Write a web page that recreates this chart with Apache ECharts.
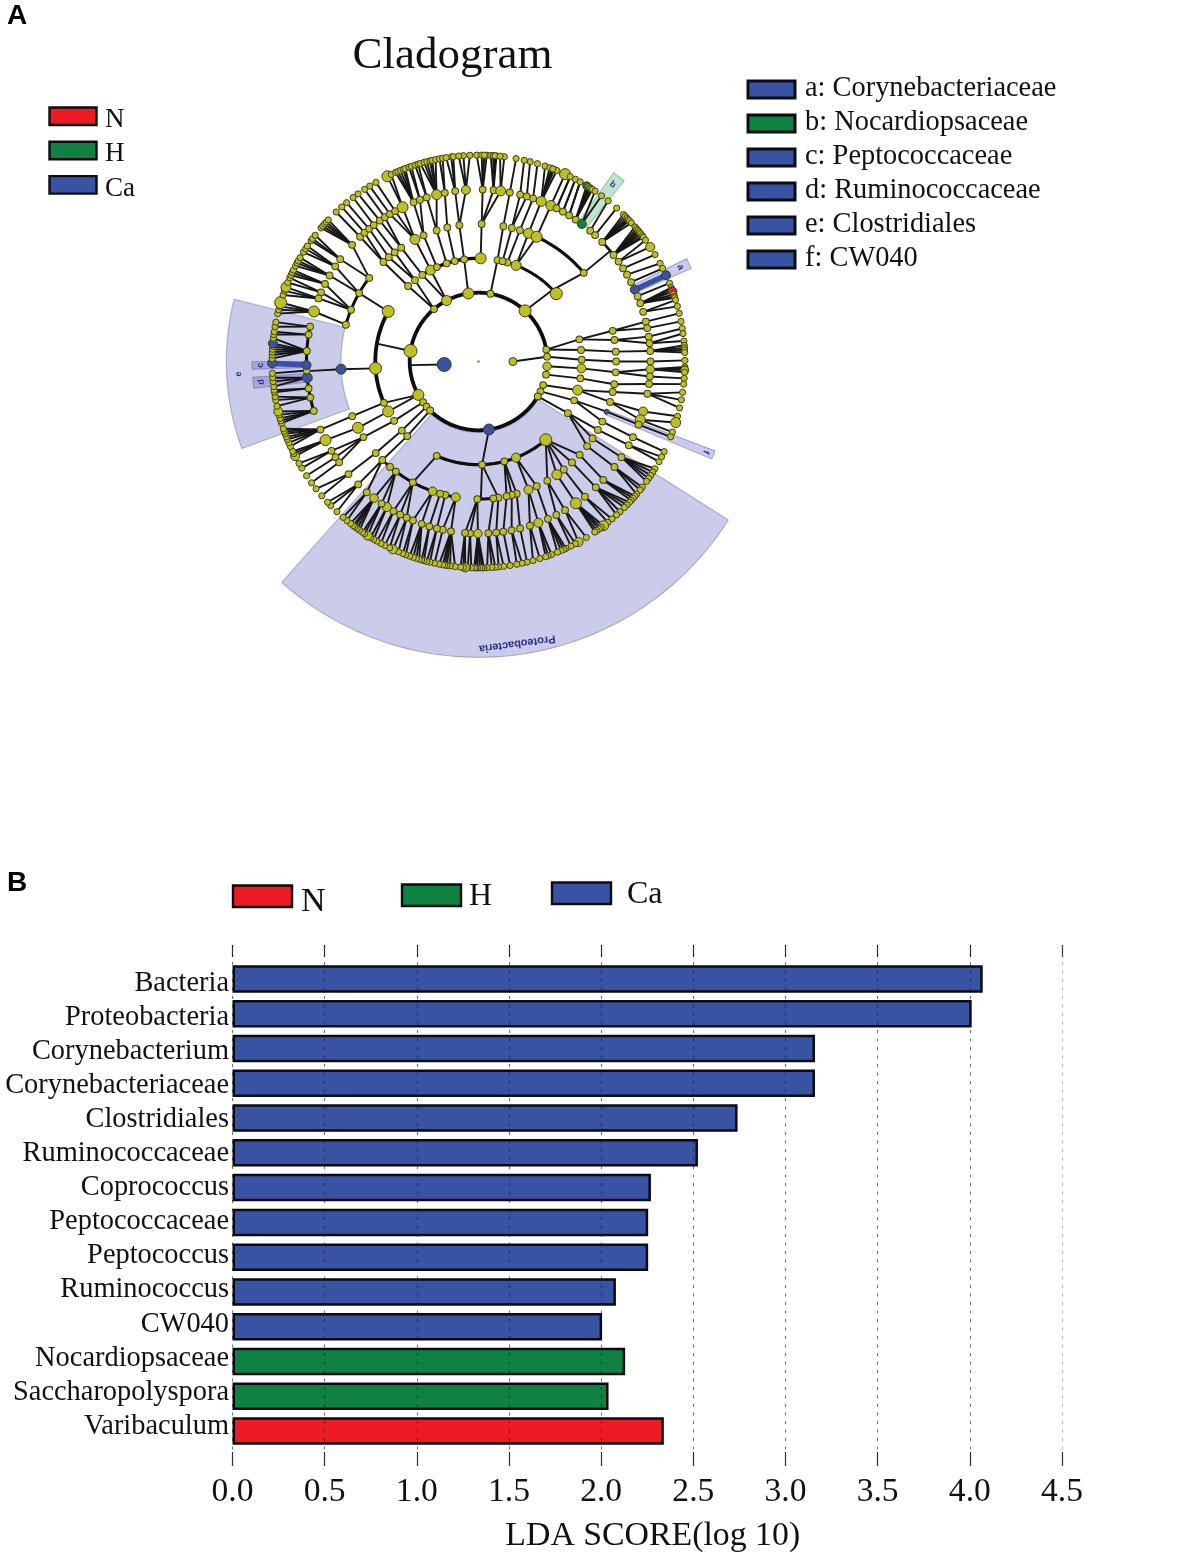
<!DOCTYPE html>
<html><head><meta charset="utf-8"><style>html,body{margin:0;padding:0;background:#fff}#c{width:1186px;height:1556px}</style>
<script src="https://cdn.jsdelivr.net/npm/echarts@6/dist/echarts.min.js"></script></head><body><div id="c"></div>
<script>
// ---------- bar chart data ----------
const barCategories=['Bacteria','Proteobacteria','Corynebacterium','Corynebacteriaceae','Clostridiales','Ruminococcaceae','Coprococcus','Peptococcaceae','Peptococcus','Ruminococcus','CW040','Nocardiopsaceae','Saccharopolyspora','Varibaculum'];
const barValues=[4.07,4.01,3.16,3.16,2.74,2.525,2.27,2.255,2.255,2.08,2.005,2.13,2.04,2.34];
const barGroups=['Ca','Ca','Ca','Ca','Ca','Ca','Ca','Ca','Ca','Ca','Ca','H','H','N'];
const groupNames=['N','H','Ca'];
const cladeLegend=['a: Corynebacteriaceae','b: Nocardiopsaceae','c: Peptococcaceae','d: Ruminococcaceae','e: Clostridiales','f: CW040'];
const cladeLegendGroups=['Ca','H','Ca','Ca','Ca','Ca'];
// ---------- cladogram data: angles in degrees clockwise from north, levels are rings ----------
// [parent angle on ring n-1, [child angles on ring n]]
const links3=[[319.7,[317,322]],[332.4,[327,332.4]],[351.5,[352]],[10,[10.6]],[80,[77.6,83.6]],[86,[89]],[94,[93.8]],[101,[99.4]],[110,[106.1]],[115.7,[112.1]],[120.5,[120]],[171.3,[178]],[241,[246.4,241]],[233.7,[234.9]],[229,[228]],[224.6,[223.7]]];
const links4=[[317,[316.3]],[322,[319.3,322.5]],[327,[325.8]],[332.4,[332.5]],[336.2,[336.5]],[342,[342.3]],[346.7,[346.9]],[352,[352]],[1.2,[1.3]],[21.4,[21.3,25]],[16.3,[17.5]],[13.5,[14]],[10.6,[10.4]],[77.6,[77.1,81]],[83.6,[85.9]],[89,[90]],[93.8,[94.5]],[99.4,[99.5]],[106.1,[102.8,107.1]],[112.1,[111.4,115.9]],[120,[119.8,124,127.9]],[139.3,[132.7,137.2,141.7,145.3,150]],[158.7,[155,158.7]],[165.5,[163.9,166,168.2]],[178,[171.7]],[203.9,[208.5]],[299,[299.8]],[266.2,[266.8]],[246.4,[246.6]],[241,[241.2]],[234.9,[236.7]],[228,[228.3]],[223.7,[224.3]]];
const links5=[[316.3,[316.5,318.5]],[319.3,[320.5]],[322.5,[322.5]],[325.8,[325,327]],[332.5,[329,331,333.8]],[336.5,[337.8,340.1]],[342.3,[342.5,345.9]],[346.9,[348.7]],[352,[352.2,355.8]],[1.3,[1.4,5,7.4]],[10.4,[10.5]],[14,[14,16.3]],[17.5,[18.5]],[21.3,[21.4]],[25,[24.9]],[77.1,[76.6,78.8]],[81,[81.7,83.9]],[85.9,[86.5]],[90,[90]],[94.5,[92.6,95]],[99.5,[97.5]],[102.8,[100.8]],[107.1,[106.9,109.8]],[111.4,[111.5]],[115.9,[116.1]],[119.8,[119.1]],[124,[123.8]],[127.9,[127.8]],[132.7,[133.5]],[137.2,[137]],[141.7,[141.8]],[145.3,[145.5]],[150,[153.1,149.8]],[155,[156.2]],[158.7,[162.6,159.6]],[163.9,[166]],[166,[168.9]],[168.2,[171.7]],[171.7,[174.1]],[173.8,[176.7]],[180.5,[180.2,182.8,184.5]],[189.5,[189.2,192]],[194,[194]],[196.2,[196.6]],[199.5,[199.3,202.4]],[208.5,[204.7,207.1,209.6]],[216.9,[212.2,214.3,217.4]],[224.3,[224.4,220.5]],[228.3,[229.1]],[236.7,[238.7,236.2,234.1]],[241.2,[242.8]],[246.6,[246.7]],[307.4,[306.5,312.7]],[299.8,[303.6,300]],[292.1,[296.8,293.7,291.5]],[285.5,[286.9]]];
const links6=[[316.5,[316.4]],[318.5,[318.5]],[320.5,[320.3]],[322.5,[322.6]],[325,[324.3]],[327,[326.5]],[329,[328.2]],[331,[330.2]],[333.8,[333.8,335]],[337.8,[336.3,337,337.8,338.6,339.2]],[340.1,[340.3,341]],[342.5,[342.1,343]],[345.9,[343.6,344.7,345.5,346.4,347,348]],[348.7,[349.1,350]],[352.2,[352.4,353,351]],[355.8,[355.8,357.6,354.5]],[1.4,[359.5,0.9,2.3,1.6]],[5,[3.4,4.1,5,4.6]],[7.4,[7.2,6]],[10.5,[10.5]],[14,[12.8]],[16.3,[14.5]],[18.5,[16.6]],[21.4,[18.8,20.8,21.5,22.3,20.2,21.1]],[24.9,[24.8]],[27,[26.4]],[29.4,[28]],[31.8,[29.5]],[34.4,[31.6,32.1,32.6,33,33.5]],[36.9,[34.4,36.6]],[40.5,[38.9]],[42.7,[42]],[46,[44.6,45.3,46,46.5,47,47.8]],[51.7,[49.3,50,50.6,51.2,51.8,52.5,53]],[54.5,[54,56.3]],[57.2,[58.8]],[59.7,[61.6]],[62.5,[63.2]],[65.3,[65.3]],[67.7,[67.7]],[70.2,[69,69.6,70.2,71,71.6,72]],[73.2,[72.7,74.5]],[76.6,[76.5]],[78.8,[78.8]],[81.7,[80.8]],[83.9,[82.2,84.3]],[86.5,[85.5,86.2,86.8,87.5]],[90,[89.7]],[92.6,[91.5,92,92.4,93]],[95,[94.7]],[97.5,[96.3]],[100.8,[98.6,100.7,103]],[106.9,[105.4]],[109.8,[107.2,110]],[111.5,[111.4]],[116.1,[115.9]],[119.1,[119,117.5]],[123.8,[121.3,122.4,123.5,124.5,125.5]],[127.8,[127.5,128.5,130]],[133.5,[130.7,131.5,132.3]],[137,[133,134,135,136.7,138]],[141.8,[139.7,141.2]],[145.5,[142.7,143.5,144.2,145,145.7]],[149.8,[148.5,151]],[153.1,[152,153.4]],[156.2,[154.9,155.6,156.4,157.5]],[159.6,[159.3,160.3,161]],[162.6,[162.7,164.7]],[166,[166.4]],[168.9,[167.8,169.3]],[171.7,[171.2]],[174.1,[173,174.4]],[176.7,[175.3,176.3,177.6]],[180.2,[178.5,179,179.6,180.3,180.8,181.2]],[182.8,[182,183]],[184.5,[183.7,184.2,185]],[189.2,[186.5,187.9,188.8,189.4,190,191]],[192,[192.3]],[194,[193.6,194.5]],[196.6,[195.3,196]],[199.3,[196.7,197.5,198.4,199.5]],[202.4,[200.6,201.5]],[204.7,[202.8,204.5]],[207.1,[205.5,207]],[209.6,[208.2,209.5]],[212.2,[210.5,211.5]],[214.3,[212.5,213.5,214.2]],[217.4,[215.2,216,216.8,217.4,218.3]],[220.5,[219.6,221]],[224.4,[223.3,225.7,227]],[229.1,[229.4,231.9]],[234.1,[234]],[236.2,[236.4]],[238.7,[238.9,240.4]],[242.8,[242.7,243.5,244.2]],[246.7,[245.7,246.8,247.8,248.6,249.5,250.2,251]],[253.3,[252.6,253.3,254,255,256]],[257.9,[257.5,259.2,260.2]],[261,[261.4,262]],[264.6,[263,264.4,265.5]],[267,[266.7]],[268.8,[269.5]],[273.5,[270.8,271.8,272.6,273.4,274.2,275,276.5]],[279,[277.5,278.3]],[281.7,[279.7,281]],[286.9,[283.4,284.5,285.5,286.6]],[291.5,[288.8,290,291.1]],[293.7,[292.5,293.9]],[296.8,[294.7,295.5,296.3]],[300,[297.6,298.5,299.2,300.2]],[303.6,[302,303.1,304]],[306.5,[305.8,306.5,307.7]],[312.7,[310.3,311,311.8,312.5,313.3]]];
// nodes on rings that no link above reaches
const ringExtras=[[1,265],[1,90],[2,278.8],[3,48.9],[3,21.4],[3,13.5],[3,16.3],[3,158.7],[3,165.5],[3,139.3],[4,292.1],[4,307.4],[4,285.5],[4,220],[4,216.9],[4,196.2],[4,194],[4,180.5],[4,173.8],[4,49.9],[5,27],[5,29.4],[5,31.8],[5,34.4],[5,36.9],[5,40.5],[5,42.7],[5,46],[5,51.7],[5,54.5],[5,57.2],[5,59.7],[5,62.5],[5,65.3],[5,67.7],[5,70.2],[5,73.2],[5,253.3],[5,257.9],[5,261],[5,264.6],[5,267],[5,268.8],[5,273.5],[5,279],[5,281.7]];
// [inner level, inner angle, outer level, outer angle] connecting lines without a node at the outer end
const stems=[[1,265,2,267],[1,90,2,86],[2,278.8,3,280],[2,42.6,3,46],[3,46,4,49.9],[4,49.9,5,50],[3,178,4,179],[4,266.8,5,266.8],[5,27,6,26.4],[5,29.4,6,28],[5,31.8,6,29.5]];
// [level, from angle, to angle, width]
const arcs=[[2,120.5,440,3.8],[3,246.4,299,3.8],[3,327,361.2,3.4],[3,10.6,48.9,3],[3,139.3,203.9,3.2],[4,285.5,307.4,3],[4,25,49.9,3.2],[4,189.5,224.3,3],[4,173.8,180.5,3],[4,163.9,168.2,2.4],[5,253.3,281.7,3],[5,46,52,2.6]];
// [level, angle, diameter]
const bigNodes=[[1,265,14],[1,90,8],[2,278.8,13],[2,351.5,11],[2,42.6,12],[2,94,8.5],[2,241,11],[2,332.4,10],[2,171.3,11],[3,299,12],[3,266.2,12],[3,1.2,11],[3,332.4,10],[3,21.4,10],[3,48.9,12],[3,241,11],[3,106.1,10],[3,93.8,9],[3,158.7,9],[3,139.3,12],[4,332.5,10],[4,241.2,11],[4,21.3,10],[4,25,11],[4,145.3,10],[4,158.7,9],[4,189.5,9],[4,199.5,8.5],[4,266.8,10],[4,111.4,5],[5,286.9,11],[5,333.8,11],[5,345.9,10],[5,355.8,9],[5,7.4,10],[5,21.4,10],[5,24.9,10],[5,217.4,8.5],[5,212.2,9],[5,145.5,11],[5,159.6,9],[5,109.8,10],[5,106.9,9],[5,92.6,8.5],[5,242.8,11],[5,180.2,8.5],[5,65.3,9],[5,268.8,9],[5,264.6,10],[5,36.9,9],[6,24.8,11],[6,56.3,9],[6,333.8,11],[6,286.6,12],[6,291.1,10],[6,204.5,9],[6,212.5,9],[6,256,9],[6,242.7,9],[6,183.7,9],[6,142.7,10],[6,151,9],[6,107.2,10],[6,92.4,8],[6,65.3,9],[6,269.5,9],[6,275,9],[6,31.6,8],[6,70.2,8.5]];
const blueNodes=[[1,265],[2,171.3],[4,266.8],[4,111.4],[5,268.8],[5,264.6],[5,65.3],[6,269.5],[6,275],[6,65.3]];
const greenNodes=[[5,36.9],[6,31.6]];
const redNodes=[[6,70.2]];
// thick coloured branches [inner level, inner angle, outer level, outer angle]
const accentBranches=[[5,65.3,6,65.3],[5,268.8,6,269.5]];
// shaded clades
const cladeSectors=[[2.06,8.6,122.4,221.7],[4.0,7.33,249.8,284.3],[4.0,7.35,110.7,112.7],[5.0,6.75,63.7,66.4],[5.0,6.75,35.6,38.9],[5.0,6.58,268,270],[5.0,6.58,263.2,266]];
const cladeSectorGroups=['Ca','Ca','Ca','Ca','H','Ca','Ca'];
const cladeLabels=['Proteobacteria','e','f','a','b','c','d'];
const cladeLabelPos=[[8.28,172.2],[6.98,267],[7.12,111.7],[6.48,65],[6.45,37.2],[6.34,269],[6.34,264.6]];

// ---------- styles ----------
const SERIF='"Liberation Serif","Times New Roman",serif';
const colors={N:'#ed1c24',H:'#0f8140',Ca:'#3853a4'};
const shade={Ca:'rgba(62,66,175,0.27)',H:'rgba(25,150,70,0.27)'};
const edge={Ca:'rgba(62,70,170,0.35)',H:'rgba(25,150,70,0.35)'};
const YEL='#bdbf22';
const LINE='#161616';

const edges=[];
[[3,links3],[4,links4],[5,links5],[6,links6]].forEach(([lv,arr])=>arr.forEach(([p,ch])=>ch.forEach(c=>edges.push([lv-1,p,lv,c]))));
stems.forEach(s=>edges.push(s));
const nodeMap=new Map();
const addNode=(l,a)=>{nodeMap.set(l+':'+a,[l,a]);};
[[3,links3],[4,links4],[5,links5],[6,links6]].forEach(([lv,arr])=>arr.forEach(([p,ch])=>{addNode(lv-1,p);ch.forEach(c=>addNode(lv,c));}));
ringExtras.forEach(([l,a])=>addNode(l,a));
bigNodes.forEach(([l,a])=>addNode(l,a));
const sizeOf=new Map(bigNodes.map(([l,a,s])=>[l+':'+a,s]));
const colorOf=new Map();
blueNodes.forEach(([l,a])=>colorOf.set(l+':'+a,colors.Ca));
greenNodes.forEach(([l,a])=>colorOf.set(l+':'+a,colors.H));
redNodes.forEach(([l,a])=>colorOf.set(l+':'+a,colors.N));
const nodeData=[...nodeMap.values()].map(([l,a])=>({
  value:[l,a],
  symbolSize:sizeOf.get(l+':'+a)||(l===6?6.2:6.8),
  itemStyle:{color:colorOf.get(l+':'+a)||YEL}
}));

function arcPts(api,r,a0,a1){const pts=[];const n=Math.max(2,Math.ceil(Math.abs(a1-a0)));for(let i=0;i<=n;i++){const p=api.coord([r,a0+(a1-a0)*i/n]);pts.push([p[0],p[1]]);}return pts;}

const graphic=[];
function swatch(x,y,w,h,c,sw){graphic.push({type:'rect',shape:{x,y,width:w,height:h},style:{fill:c,stroke:'#0c0c12',lineWidth:sw||2.4}});}
function label(x,y,text,size,opt){graphic.push({type:'text',x,y,style:Object.assign({text,font:size+'px '+SERIF,fill:'#111',verticalAlign:'middle',align:'left'},opt||{})});}
label(7,16,'A',28,{font:'bold 28px "Liberation Sans",Arial,sans-serif',fill:'#000'});
label(7,883,'B',28,{font:'bold 28px "Liberation Sans",Arial,sans-serif',fill:'#000'});
label(452.5,56,'Cladogram',45,{align:'center'});
groupNames.forEach((g,i)=>{swatch(49.5,107.5+i*34.3,47,17.5,colors[g]);label(105,120+i*34.3,g,27);});
cladeLegend.forEach((t,i)=>{swatch(748,81+i*34,47,17,colors[cladeLegendGroups[i]],3);label(805,89+i*34,t,28.4);});
const legB=[[233,885.5,301,902,34],[402,884.5,469,897,32],[552,882.5,627,895,32]];
groupNames.forEach((g,i)=>{const p=legB[i];swatch(p[0],p[1],59,21.5,colors[g]);label(p[2],p[3],g,p[4]);});

const gridLine='rgba(25,25,35,0.62)';
const option={
  animation:false,backgroundColor:'#fff',
  graphic:{elements:graphic},
  polar:{center:[478.5,361.5],radius:344},
  radiusAxis:{type:'value',min:0,max:10,show:false},
  angleAxis:{type:'value',min:0,max:360,startAngle:90,clockwise:true,show:false},
  grid:[
    {left:232.5,top:945,width:829.5,height:521,containLabel:false,outerBoundsMode:'none'},
    {left:232.5,top:961.6,width:829.5,height:486.8,outerBoundsMode:'none'},
    {left:232.5,top:966,width:829.5,height:477.4,outerBoundsMode:'none'}
  ],
  xAxis:[
    {gridIndex:0,type:'value',min:0,max:4.5,interval:0.5,position:'bottom',z:3,
     axisLine:{show:false},axisTick:{show:true,inside:true,length:14,lineStyle:{color:'#333',width:1.2}},
     axisLabel:{fontFamily:SERIF,fontSize:33.6,color:'#111',margin:9,formatter:v=>v.toFixed(1)},
     splitLine:{show:true,lineStyle:{color:[gridLine,gridLine,gridLine,gridLine,gridLine,gridLine,gridLine,gridLine,gridLine,'rgba(90,90,90,0.45)'],type:[3,5.5],width:1.1}},
     name:'LDA SCORE(log 10)',nameLocation:'middle',nameGap:53,nameTextStyle:{fontFamily:SERIF,fontSize:33.8,color:'#111',padding:[0,0,0,11]}},
    {gridIndex:0,type:'value',min:0,max:4.5,interval:0.5,position:'top',
     axisLine:{show:false},axisTick:{show:true,inside:true,length:12,lineStyle:{color:'#333',width:1.2}},axisLabel:{show:false},splitLine:{show:false}},
    {gridIndex:1,type:'value',min:0,max:4.5,show:false},
    {gridIndex:2,type:'value',min:0,max:4.5,show:false}
  ],
  yAxis:[
    {gridIndex:0,type:'value',min:0,max:1,show:false},
    {gridIndex:1,type:'category',data:barCategories,inverse:true,show:false},
    {gridIndex:2,type:'category',data:barCategories,inverse:true,axisLine:{show:false},axisTick:{show:false},
     axisLabel:{fontFamily:SERIF,fontSize:28.4,color:'#111',margin:3.5,interval:0}}
  ],
  series:[
    {type:'bar',name:'LDA',xAxisIndex:2,yAxisIndex:1,z:2,barWidth:27.5,silent:true,
     data:barValues.map((v,i)=>({value:v,itemStyle:{color:colors[barGroups[i]]}})),
     itemStyle:{borderColor:'#0b0b14',borderWidth:2.5}},
    {type:'custom',name:'clades',coordinateSystem:'polar',silent:true,z:1,data:cladeSectors,
     encode:{radius:1,angle:2},
     renderItem(params,api){
       const i=params.dataIndex,[r0,r1,a0,a1]=cladeSectors[i],g=cladeSectorGroups[i];
       const pts=arcPts(api,r1,a0,a1).concat(arcPts(api,r0,a1,a0));
       const [lr,la]=cladeLabelPos[i];const lp=api.coord([lr,la]);
       return {type:'group',children:[
         {type:'polygon',shape:{points:pts},style:{fill:shade[g],stroke:edge[g],lineWidth:1.2}},
         {type:'text',x:lp[0],y:lp[1],rotation:-la*Math.PI/180,
          style:{text:cladeLabels[i],font:'bold '+(i===0?11:9)+'px "Liberation Sans",Arial,sans-serif',fill:'#2b2f86',align:'center',verticalAlign:'middle'}}
       ]};
     }},
    {type:'custom',name:'branches',coordinateSystem:'polar',silent:true,z:3,data:edges,
     encode:{radius:0,angle:1},
     renderItem(params,api){
       const [l0,a0,l1,a1]=edges[params.dataIndex];
       const p=api.coord([l0,a0]),q=api.coord([l1,a1]);
       return {type:'line',shape:{x1:p[0],y1:p[1],x2:q[0],y2:q[1]},style:{stroke:LINE,lineWidth:1.9}};
     }},
    {type:'custom',name:'arcs',coordinateSystem:'polar',silent:true,z:4,data:arcs,
     encode:{radius:0,angle:1},
     renderItem(params,api){
       const [l,a0,a1,w]=arcs[params.dataIndex];
       return {type:'polyline',shape:{points:arcPts(api,l,a0,a1)},style:{stroke:'#0e0e0e',lineWidth:w,fill:null}};
     }},
    {type:'custom',name:'accents',coordinateSystem:'polar',silent:true,z:5,data:accentBranches,
     encode:{radius:0,angle:1},
     renderItem(params,api){
       const [l0,a0,l1,a1]=accentBranches[params.dataIndex];
       const p=api.coord([l0,a0]),q=api.coord([l1,a1]);
       return {type:'line',shape:{x1:p[0],y1:p[1],x2:q[0],y2:q[1]},style:{stroke:'#3a50b0',lineWidth:5.5}};
     }},
    {type:'scatter',name:'nodes',coordinateSystem:'polar',silent:true,z:6,symbol:'circle',data:nodeData,
     itemStyle:{borderColor:'#3e3e18',borderWidth:1,opacity:1}},
    {type:'scatter',name:'root',coordinateSystem:'polar',silent:true,z:6,symbol:'circle',symbolSize:3,data:[[0,0]],
     itemStyle:{color:'#a9a968',opacity:1}}
  ]
};
echarts.init(document.getElementById('c'),null,{renderer:'canvas'}).setOption(option);
</script></body></html>
